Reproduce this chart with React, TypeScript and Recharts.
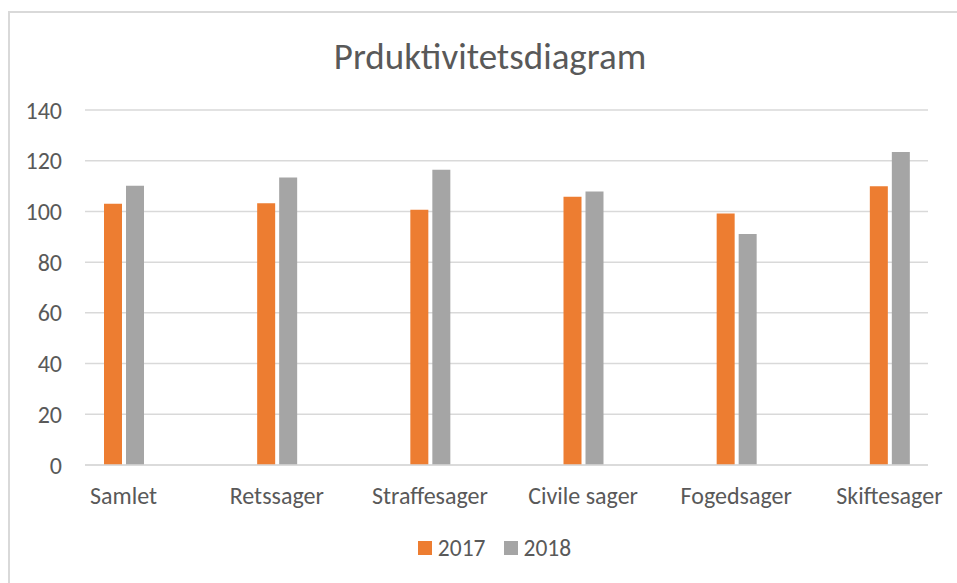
import React from "react";
import { BarChart, Bar, XAxis, YAxis, CartesianGrid, Legend } from "recharts";

const categories = ["Samlet", "Retssager", "Straffesager", "Civile sager", "Fogedsager", "Skiftesager"];
const values2017 = [103, 103.2, 100.7, 105.8, 99.2, 109.9];
const values2018 = [110.1, 113.4, 116.4, 107.9, 91.1, 123.4];
const yTicks = [0, 20, 40, 60, 80, 100, 120, 140];

const data = categories.map((name, i) => ({ name, "2017": values2017[i], "2018": values2018[i] }));

const FONT = "Carlito, Calibri, Lato, sans-serif";
const TEXT = "#595959";

function LegendContent({ payload }: any) {
  return (
    <div style={{ display: "flex", justifyContent: "center", gap: 18, fontFamily: FONT, fontSize: 23.5, color: TEXT }}>
      {(payload || []).map((p: any) => (
        <div key={p.value} style={{ display: "flex", alignItems: "center", gap: 6 }}>
          <span style={{ width: 14, height: 14, background: p.color, display: "inline-block" }} />
          <span>{p.value}</span>
        </div>
      ))}
    </div>
  );
}

export default function App() {
  return (
    <div style={{ position: "absolute", left: 0, top: 0, width: 957, height: 583, overflow: "hidden", background: "#fff" }}>
      <div
        style={{
          position: "absolute",
          left: 8,
          top: 11,
          width: 1000,
          height: 700,
          borderLeft: "2px solid #d9d9d9",
          borderTop: "2px solid #d9d9d9",
        }}
      />
      <svg width={957} height={100} style={{ position: "absolute", left: 0, top: 0 }}>
        <text x={490} y={69} textAnchor="middle" fontFamily={FONT} fontSize={37} fill={TEXT}>
          Prduktivitetsdiagram
        </text>
      </svg>
      <div style={{ position: "absolute", left: 0, top: 0 }}>
        <BarChart width={957} height={583} data={data} margin={{ top: 110, right: 29, bottom: 88, left: 0 }} barSize={18} barGap={4}>
          <CartesianGrid vertical={false} stroke="#d9d9d9" strokeWidth={1.5} />
          <XAxis
            dataKey="name"
            height={30}
            padding={{ left: -38, right: -38 }}
            axisLine={{ stroke: "#d9d9d9", strokeWidth: 1.5 }}
            tickLine={false}
            tickSize={0}
            tickMargin={22}
            tick={{ fontFamily: FONT, fontSize: 24, fill: TEXT }}
            interval={0}
          />
          <YAxis
            width={85}
            domain={[0, 140]}
            ticks={yTicks}
            axisLine={false}
            tickLine={false}
            tickSize={0}
            tickMargin={23}
            tick={{ fontFamily: FONT, fontSize: 24, fill: TEXT }}
          />
          <Legend
            layout="horizontal"
            verticalAlign="middle"
            align="center"
            content={<LegendContent />}
            wrapperStyle={{ position: "absolute", top: 534, left: 16, width: 957 }}
          />
          <Bar dataKey="2017" fill="#ED7D31" isAnimationActive={false} />
          <Bar dataKey="2018" fill="#A5A5A5" isAnimationActive={false} />
        </BarChart>
      </div>
    </div>
  );
}
